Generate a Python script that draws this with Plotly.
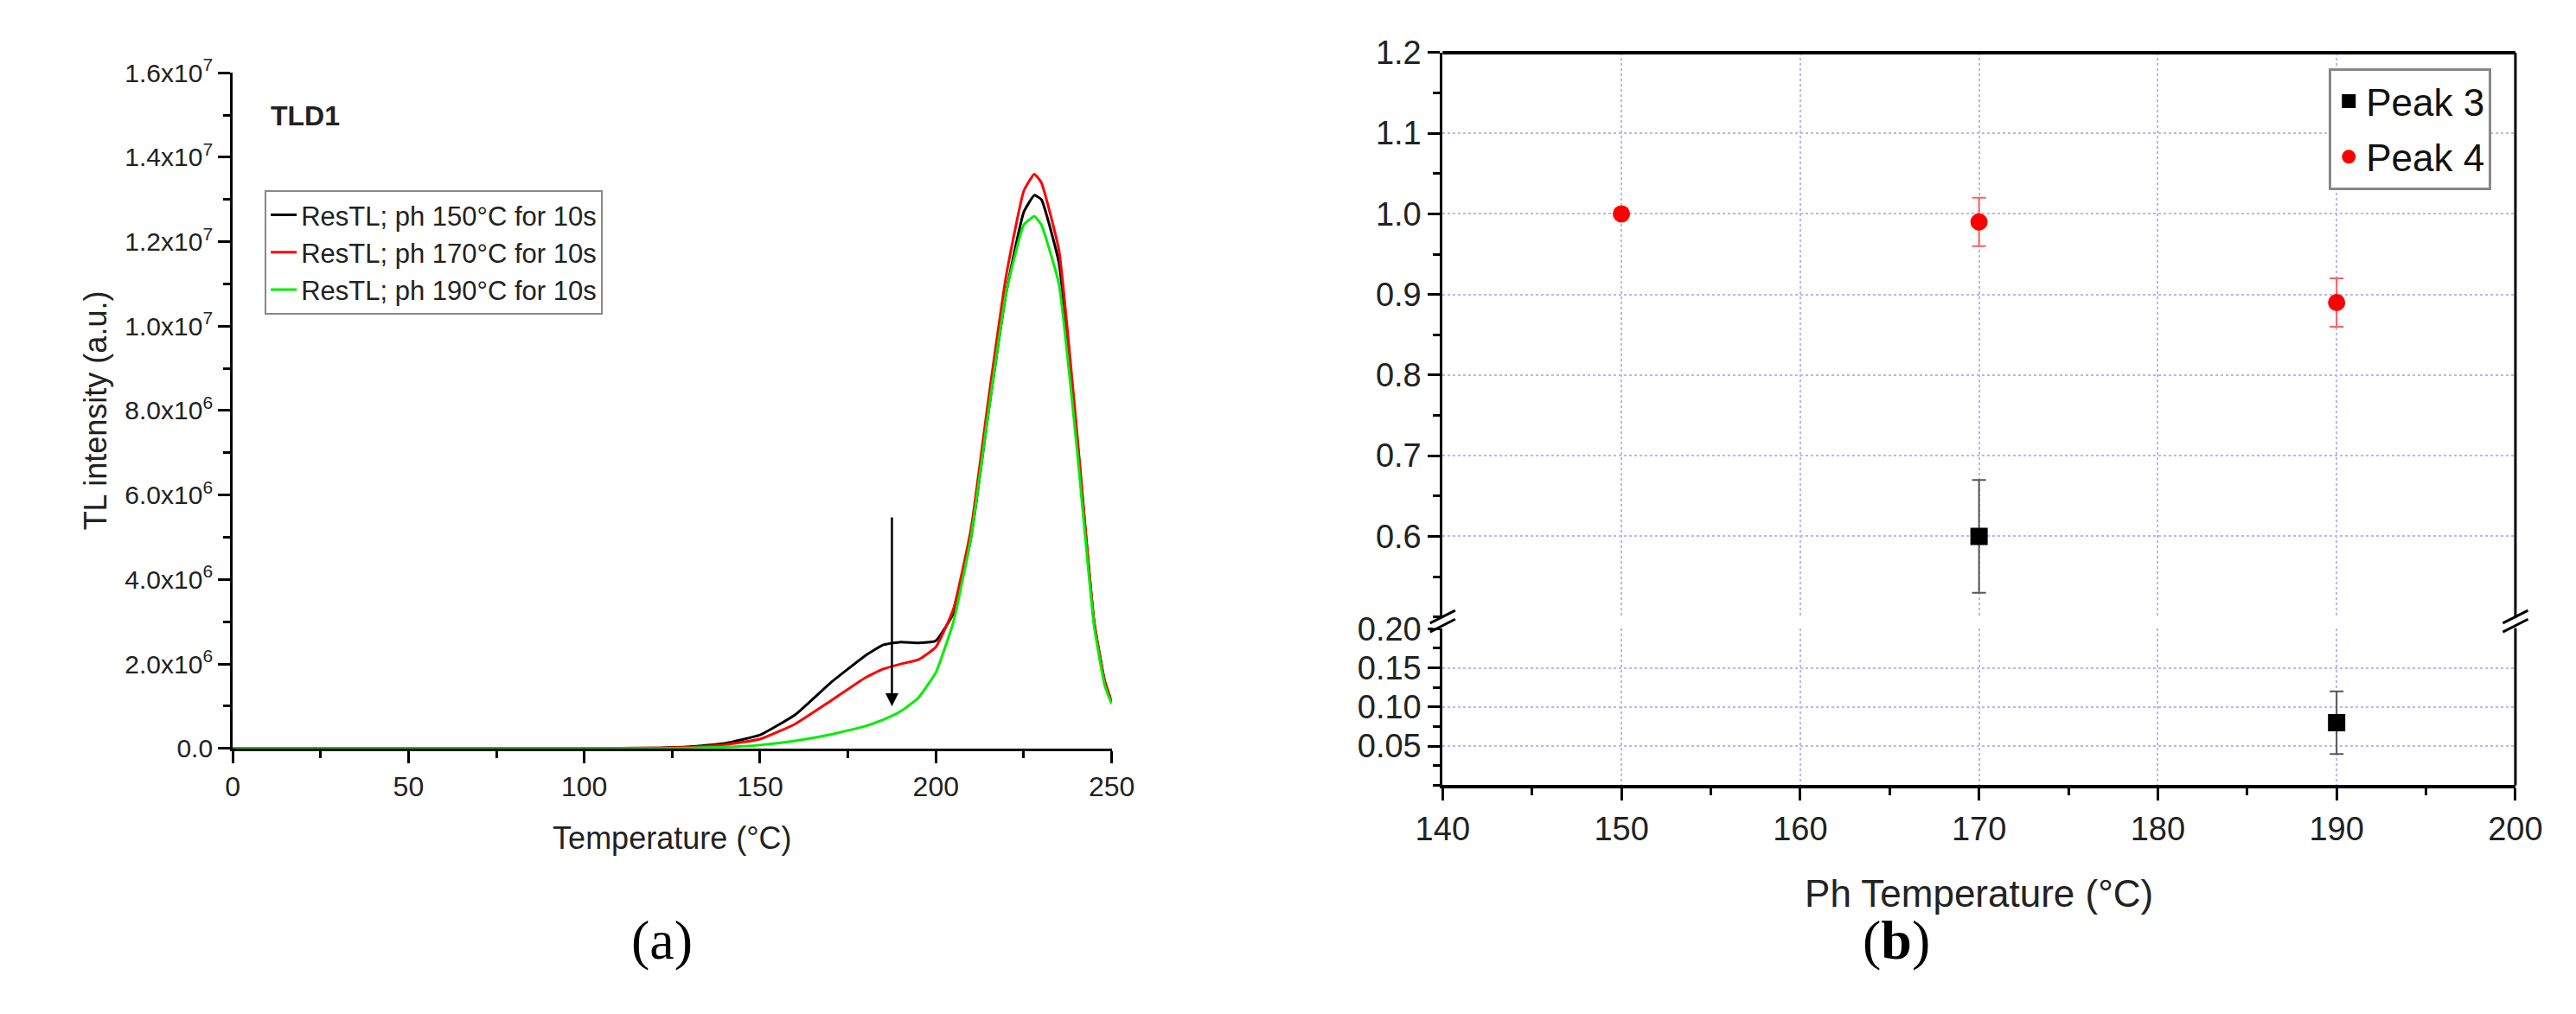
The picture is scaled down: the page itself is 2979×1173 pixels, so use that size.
import plotly.graph_objects as go

# ---- panel (a) data ----
temp = [0, 50, 100, 120, 130, 140, 150, 160, 170, 180, 185, 190, 195, 200, 205, 210, 215, 220, 225, 228, 230, 235, 240, 245, 248, 250]
ph150 = [0, 0, 0, 0.01, 0.04, 0.12, 0.32, 0.8, 1.55, 2.2, 2.45, 2.52, 2.5, 2.55, 3.2, 5.0, 8.0, 10.8, 12.7, 13.1, 13.0, 11.5, 7.5, 3.0, 1.6, 1.1]
ph170 = [0, 0, 0, 0.01, 0.03, 0.09, 0.22, 0.58, 1.12, 1.68, 1.88, 2.0, 2.1, 2.4, 3.3, 5.2, 8.3, 11.2, 13.2, 13.6, 13.4, 11.8, 7.6, 3.0, 1.6, 1.1]
ph190 = [0, 0, 0, 0.0, 0.01, 0.03, 0.08, 0.18, 0.33, 0.53, 0.68, 0.88, 1.2, 1.8, 3.0, 5.0, 8.0, 10.8, 12.4, 12.6, 12.4, 11.0, 7.2, 2.9, 1.5, 1.05]
names_a = ["ResTL; ph 150°C for 10s", "ResTL; ph 170°C for 10s", "ResTL; ph 190°C for 10s"]
colors_a = ["#000000", "#ff0000", "#00ee00"]
ytick_vals = [0, 2e6, 4e6, 6e6, 8e6, 1e7, 1.2e7, 1.4e7, 1.6e7]
ytick_text = ["0.0", "2.0x10<sup>6</sup>", "4.0x10<sup>6</sup>", "6.0x10<sup>6</sup>", "8.0x10<sup>6</sup>",
              "1.0x10<sup>7</sup>", "1.2x10<sup>7</sup>", "1.4x10<sup>7</sup>", "1.6x10<sup>7</sup>"]

# ---- panel (b) data ----
ph_temp3 = [170, 190]
peak3 = [0.60, 0.08]
peak3_err = [0.07, 0.04]
ph_temp4 = [150, 170, 190]
peak4 = [1.0, 0.99, 0.89]
peak4_err = [0.0, 0.03, 0.03]

fig = go.Figure()
F = "Arial, Liberation Sans, sans-serif"

for ys, n, c in zip([ph150, ph170, ph190], names_a, colors_a):
    fig.add_trace(go.Scatter(x=temp, y=[v * 1e6 for v in ys], mode="lines", name=n,
                             line=dict(color=c, width=3, shape="spline", smoothing=0.4),
                             xaxis="x", yaxis="y", legend="legend"))

def seg(ts, vals, errs, lo, hi):
    xs, ys, es = [], [], []
    for t, v, e in zip(ts, vals, errs):
        if lo <= v <= hi:
            xs.append(t); ys.append(v); es.append(e)
    return xs, ys, es

for (ts, vals, errs, name, sym, col, ecol) in [
        (ph_temp3, peak3, peak3_err, "Peak 3", "square", "#000000", "#555555"),
        (ph_temp4, peak4, peak4_err, "Peak 4", "circle", "#ff0000", "#ff6060")]:
    for ax, lo, hi, show in [("y2", 0.45, 1.3, True), ("y3", -0.1, 0.25, False)]:
        xs, ys, es = seg(ts, vals, errs, lo, hi)
        if not xs:
            continue
        fig.add_trace(go.Scatter(x=xs, y=ys, mode="markers", name=name, showlegend=show,
                                 legendgroup=name, legend="legend2",
                                 marker=dict(symbol=sym, size=20, color=col),
                                 error_y=dict(type="data", array=es, color=ecol, thickness=2, width=8),
                                 xaxis="x2", yaxis=ax))

axcommon = dict(showline=True, linecolor="black", linewidth=3, ticks="outside", tickcolor="black",
                tickwidth=3, zeroline=False, showgrid=False)
grid = dict(showgrid=True, gridcolor="#b8b8f0", griddash="dot", gridwidth=2)
fig.update_layout(
    width=2979, height=1173, autosize=False, margin=dict(l=0, r=0, t=0, b=0),
    paper_bgcolor="white", plot_bgcolor="white", font=dict(family=F, color="#222"),
    xaxis=dict(domain=[0.0786, 0.4273], range=[0, 250], tickvals=[0, 50, 100, 150, 200, 250], ticklen=14,
               minor=dict(dtick=25, ticks="outside", ticklen=8, tickcolor="black", tickwidth=3),
               tickfont=dict(size=32), title=dict(text="Temperature (°C)", font=dict(size=36), standoff=30),
               anchor="y", **axcommon),
    yaxis=dict(domain=[0.2634, 0.9514], range=[0, 1.6e7], tickvals=ytick_vals, ticktext=ytick_text, ticklen=14,
               minor=dict(dtick=1e6, ticks="outside", ticklen=8, tickcolor="black", tickwidth=3),
               tickfont=dict(size=30), title=dict(text="TL intensity (a.u.)", font=dict(size=36), standoff=10),
               anchor="x", **axcommon),
    xaxis2=dict(domain=[0.5586, 0.9842], range=[140, 200], dtick=10, ticklen=14,
                minor=dict(dtick=5, ticks="outside", ticklen=8, tickcolor="black", tickwidth=3),
                tickfont=dict(size=38), title=dict(text="Ph Temperature (°C)", font=dict(size=44), standoff=40),
                anchor="y3", showline=True, linecolor="black", linewidth=4, ticks="outside", tickcolor="black",
                tickwidth=3, zeroline=False, **grid),
    yaxis2=dict(domain=[0.3973, 0.9719], range=[0.5, 1.2], tickformat=".1f", ticklen=14,
                tickvals=[0.6, 0.7, 0.8, 0.9, 1.0, 1.1, 1.2],
                minor=dict(dtick=0.05, ticks="outside", ticklen=8, tickcolor="black", tickwidth=3),
                tickfont=dict(size=38), anchor="x2", showline=True, linecolor="black", linewidth=3,
                ticks="outside", tickcolor="black", tickwidth=3, zeroline=False, **grid),
    yaxis3=dict(domain=[0.2259, 0.3853], range=[0, 0.2], tickvals=[0.05, 0.10, 0.15, 0.20], tickformat=".2f",
                ticklen=14, minor=dict(dtick=0.025, ticks="outside", ticklen=8, tickcolor="black", tickwidth=3),
                tickfont=dict(size=38), anchor="x2", showline=True, linecolor="black", linewidth=3,
                ticks="outside", tickcolor="black", tickwidth=3, zeroline=False, **grid),
    legend=dict(x=0.0913, y=0.832, xanchor="left", yanchor="top", bgcolor="white", bordercolor="#888",
                borderwidth=2, font=dict(size=31, color="#222"), tracegroupgap=0),
    legend2=dict(x=0.9747, y=0.956, xanchor="right", yanchor="top", bgcolor="white", bordercolor="#888",
                 borderwidth=3, font=dict(size=44, color="#111"), tracegroupgap=4),
    showlegend=True,
)

fig.add_shape(type="line", xref="paper", yref="paper", x0=0.5586, x1=0.9842, y0=0.9719, y1=0.9719,
              line=dict(color="black", width=4))
fig.add_shape(type="line", xref="paper", yref="paper", x0=0.9842, x1=0.9842, y0=0.2259, y1=0.9719,
              line=dict(color="black", width=3))
for xb in [0.5586, 0.9842]:
    fig.add_shape(type="rect", xref="paper", yref="paper", x0=xb - 0.004, x1=xb + 0.004, y0=0.386, y1=0.396,
                  fillcolor="white", line=dict(width=0))
    for dy in [0, 0.009]:
        fig.add_shape(type="line", xref="paper", yref="paper", x0=xb - 0.005, x1=xb + 0.005,
                      y0=0.382 + dy, y1=0.395 + dy, line=dict(color="black", width=3))

fig.add_annotation(x=187.5, y=1.0e6, ax=187.5, ay=5.5e6, xref="x", yref="y", axref="x", ayref="y",
                   showarrow=True, arrowhead=2, arrowsize=1.2, arrowwidth=2.5, arrowcolor="black", text="")
fig.add_annotation(x=0.093, y=0.925, xref="paper", yref="paper", text="<b>TLD1</b>", showarrow=False,
                   xanchor="left", font=dict(size=32, color="#222"))
fig.add_annotation(x=0.236, y=0.035, xref="paper", yref="paper", text="(a)", showarrow=False,
                   font=dict(size=64, family="Liberation Serif, serif", color="black"))
fig.add_annotation(x=0.7526, y=0.035, xref="paper", yref="paper", text="(<b>b</b>)", showarrow=False,
                   font=dict(size=64, family="Liberation Serif, serif", color="black"))

fig.write_html("out.html")
